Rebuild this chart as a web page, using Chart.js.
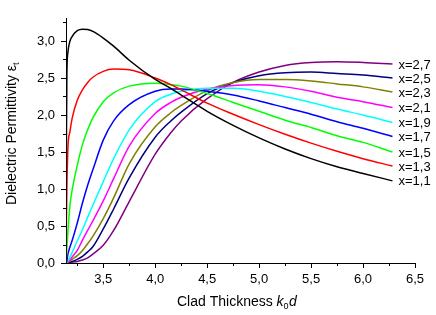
<!DOCTYPE html>
<html>
<head>
<meta charset="utf-8">
<script src="https://cdn.jsdelivr.net/npm/chart.js@4"></script>
<style>
  body { margin: 0; background: #fff; }
  canvas { display: block; }
</style>
</head>
<body>
<canvas id="myChart" width="436" height="315"></canvas>
<script>
// clad thickness k0d (x axis)
const kd = [3.1416, 3.145, 3.15, 3.16, 3.18, 3.2, 3.25, 3.3, 3.35, 3.4, 3.5, 3.6, 3.75, 4.0, 4.15, 4.25, 4.5, 4.75, 5.0, 5.25, 5.5, 5.75, 6.0, 6.2832];

// permittivity for each x
const eps11 = [0, 1.5, 2.55, 2.85, 3.0, 3.06, 3.14, 3.16, 3.155, 3.13, 3.04, 2.93, 2.74, 2.48, 2.36, 2.27, 2.05, 1.86, 1.69, 1.54, 1.41, 1.30, 1.21, 1.11];
const eps13 = [0, 0.5, 1.0, 1.55, 1.78, 1.95, 2.2, 2.34, 2.44, 2.51, 2.59, 2.62, 2.61, 2.50, 2.41, 2.34, 2.16, 2.01, 1.87, 1.74, 1.62, 1.51, 1.41, 1.31];
const eps15 = [0, 0.08, 0.2, 0.42, 0.78, 0.98, 1.32, 1.6, 1.8, 1.96, 2.18, 2.30, 2.39, 2.43, 2.41, 2.39, 2.29, 2.17, 2.05, 1.93, 1.83, 1.72, 1.63, 1.50];
const eps17 = [0, 0.01, 0.03, 0.12, 0.22, 0.3, 0.54, 0.81, 1.05, 1.26, 1.66, 1.92, 2.14, 2.32, 2.35, 2.35, 2.32, 2.27, 2.19, 2.10, 2.01, 1.91, 1.82, 1.71];
const eps19 = [0, 0.005, 0.01, 0.03, 0.08, 0.14, 0.30, 0.45, 0.62, 0.78, 1.10, 1.41, 1.80, 2.18, 2.28, 2.32, 2.36, 2.36, 2.32, 2.25, 2.17, 2.08, 2.00, 1.90];
const eps21 = [0, 0, 0.005, 0.015, 0.04, 0.08, 0.17, 0.31, 0.44, 0.57, 0.84, 1.14, 1.58, 2.02, 2.17, 2.24, 2.35, 2.40, 2.41, 2.38, 2.32, 2.24, 2.18, 2.10];
const eps23 = [0, 0, 0, 0.01, 0.03, 0.05, 0.10, 0.17, 0.26, 0.36, 0.60, 0.88, 1.34, 1.84, 2.03, 2.13, 2.33, 2.44, 2.48, 2.48, 2.46, 2.42, 2.38, 2.31];
const eps25 = [0, 0, 0, 0, 0.01, 0.02, 0.05, 0.09, 0.15, 0.22, 0.46, 0.73, 1.15, 1.70, 1.92, 2.04, 2.29, 2.44, 2.53, 2.57, 2.58, 2.56, 2.54, 2.50];
const eps27 = [0, 0, 0, 0, 0, 0.01, 0.02, 0.04, 0.07, 0.12, 0.24, 0.44, 0.83, 1.47, 1.76, 1.92, 2.22, 2.44, 2.58, 2.67, 2.71, 2.72, 2.71, 2.69];

const seriesLabels = ['x=1,1', 'x=1,3', 'x=1,5', 'x=1,7', 'x=1,9', 'x=2,1', 'x=2,3', 'x=2,5', 'x=2,7'];
const seriesValues = [eps11, eps13, eps15, eps17, eps19, eps21, eps23, eps25, eps27];
const seriesColors = ['#000000', '#ff0000', '#00ff00', '#0000ff', '#00ffff', '#ff00ff', '#808000', '#000080', '#800080'];

// tick values (majors get a label)
const xTicks = [3.25, 3.5, 3.75, 4.0, 4.25, 4.5, 4.75, 5.0, 5.25, 5.5, 5.75, 6.0, 6.25, 6.5];
const yTicks = [0, 0.25, 0.5, 0.75, 1.0, 1.25, 1.5, 1.75, 2.0, 2.25, 2.5, 2.75, 3.0, 3.25];

const FONT = 'Arial, "Liberation Sans", sans-serif';

function isMajor(v) {
    return Math.abs(v * 2 - Math.round(v * 2)) < 1e-6;
}
function fmt(v) {
    return v.toFixed(1).replace('.', ',');
}

// tick marks, axis titles and line-end labels
const decor = {
    id: 'decor',
    afterDraw(chart) {
        const ctx = chart.ctx;
        const xs = chart.scales.x;
        const ys = chart.scales.y;
        const area = chart.chartArea;
        ctx.save();
        ctx.strokeStyle = '#000';
        ctx.lineWidth = 1;
        ctx.beginPath();
        xTicks.forEach(v => {
            const px = Math.round(xs.getPixelForValue(v)) + 0.5;
            const len = isMajor(v) ? 5 : 3;
            ctx.moveTo(px, area.bottom);
            ctx.lineTo(px, area.bottom + len);
        });
        yTicks.forEach(v => {
            const py = Math.round(ys.getPixelForValue(v)) + 0.5;
            const len = isMajor(v) ? 5 : 3;
            ctx.moveTo(area.left, py);
            ctx.lineTo(area.left - len, py);
        });
        ctx.stroke();

        ctx.fillStyle = '#000';
        ctx.textBaseline = 'alphabetic';
        ctx.textAlign = 'left';

        // x title: Clad Thickness k0d
        let x = 177;
        const yb = 306;
        ctx.font = '14px ' + FONT;
        ctx.fillText('Clad Thickness ', x, yb);
        x += ctx.measureText('Clad Thickness ').width;
        ctx.font = 'italic 14px ' + FONT;
        ctx.fillText('k', x, yb);
        x += ctx.measureText('k').width;
        ctx.font = '9px ' + FONT;
        ctx.fillText('0', x, yb + 3);
        x += ctx.measureText('0').width + 0.5;
        ctx.font = 'italic 14px ' + FONT;
        ctx.fillText('d', x, yb);

        // y title: Dielectric Permittivity eps_t
        ctx.save();
        ctx.translate(16, 205);
        ctx.rotate(-Math.PI / 2);
        ctx.font = '14px ' + FONT;
        const t1 = 'Dielectric Permittivity \u03b5';
        ctx.fillText(t1, 0, 0);
        const w1 = ctx.measureText(t1).width;
        ctx.font = '9px ' + FONT;
        ctx.fillText('t', w1, 3);
        ctx.restore();

        // labels at line ends
        ctx.font = '13px ' + FONT;
        ctx.textBaseline = 'middle';
        chart.data.datasets.forEach((ds, i) => {
            const pts = chart.getDatasetMeta(i).data;
            const last = pts[pts.length - 1];
            ctx.fillText(seriesLabels[i], last.x + 6, last.y + 1);
        });
        ctx.restore();
    }
};

new Chart(document.getElementById('myChart').getContext('2d'), {
    type: 'line',
    data: {
        datasets: seriesValues.map((vals, i) => ({
            label: seriesLabels[i],
            data: kd.map((k, j) => ({ x: k, y: vals[j] })),
            borderColor: seriesColors[i],
            borderWidth: 1.5,
            pointRadius: 0,
            fill: false,
            cubicInterpolationMode: 'monotone'
        }))
    },
    options: {
        responsive: false,
        animation: false,
        devicePixelRatio: 1,
        layout: { padding: { left: 0, right: 21, top: 6, bottom: 0 } },
        plugins: {
            legend: { display: false },
            tooltip: { enabled: false }
        },
        scales: {
            x: {
                type: 'linear',
                min: 3.1416,
                max: 6.5,
                border: { display: true, color: '#000', width: 1 },
                grid: { display: false, drawTicks: false },
                afterBuildTicks: s => { s.ticks = xTicks.map(v => ({ value: v })); },
                afterFit: s => { s.height = 52; },
                ticks: {
                    autoSkip: false,
                    maxRotation: 0,
                    padding: 9,
                    color: '#000',
                    font: { family: FONT, size: 13 },
                    callback: v => isMajor(v) ? fmt(v) : ''
                }
            },
            y: {
                min: 0,
                max: 3.3,
                border: { display: true, color: '#000', width: 1 },
                grid: { display: false, drawTicks: false },
                afterBuildTicks: s => { s.ticks = yTicks.map(v => ({ value: v })); },
                afterFit: s => { s.width = 66; },
                ticks: {
                    autoSkip: false,
                    padding: 11,
                    color: '#000',
                    font: { family: FONT, size: 13 },
                    callback: v => isMajor(v) ? fmt(v) : ''
                }
            }
        }
    },
    plugins: [decor]
});
</script>
</body>
</html>
